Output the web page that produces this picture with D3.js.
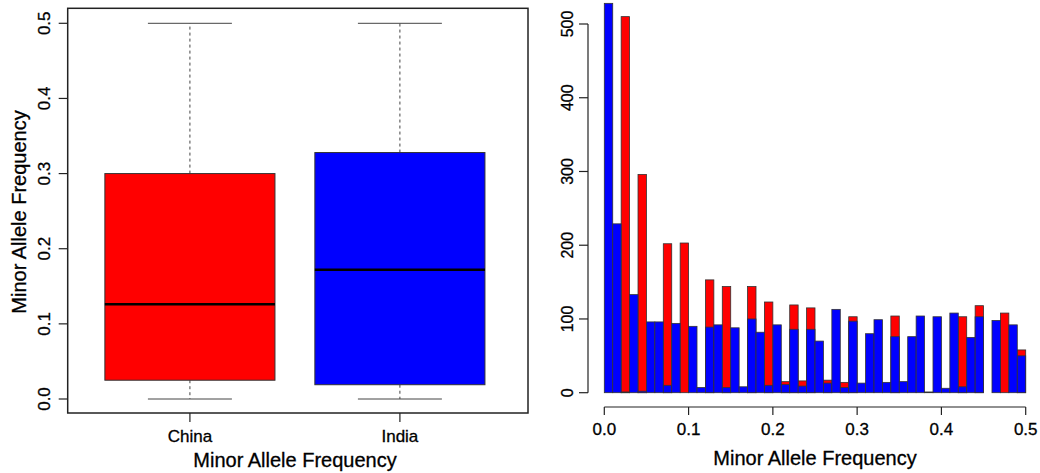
<!DOCTYPE html>
<html><head><meta charset="utf-8">
<script src="https://cdn.jsdelivr.net/npm/d3@7"></script>
<style>body{margin:0;background:#fff}svg{display:block}text{font-family:"Liberation Sans",Arial,sans-serif;fill:#000;stroke:#000;stroke-width:0.3px}</style>
</head><body>
<svg id="c" width="1040" height="473"></svg>
<script>
// ---- Data ----
const groups = ["China", "India"];
const groupColors = ["#ff0000", "#0000ff"];
const boxMin = [0.0, 0.0];
const boxQ1 = [0.025, 0.019];
const boxMedian = [0.126, 0.172];
const boxQ3 = [0.300, 0.328];
const boxMax = [0.5, 0.5];
const boxTicks = [0.0, 0.1, 0.2, 0.3, 0.4, 0.5];

const binWidth = 0.01;
const chinaCounts = [0,0,510,0,296,0,0,202,0,203, 0,0,153,0,144,0,0,144,0,123, 0,15,119,16,115,0,17,0,14,103, 0,0,0,0,104,0,0,0,0,0, 0,0,103,0,118,0,0,108,0,58];
const indiaCounts = [528,229,1,133,2,96,96,10,94,0, 90,7,89,92,7,88,8,100,82,10, 92,11,86,9,86,70,13,113,7,97, 13,80,99,14,76,15,76,104,1,103, 6,108,8,75,103,0,98,0,92,50];
const histXTicks = [0.0, 0.1, 0.2, 0.3, 0.4, 0.5];
const histYTicks = [0, 100, 200, 300, 400, 500];
const xTitle = "Minor Allele Frequency";
const yTitle = "Minor Allele Frequency";

const svg = d3.select("#c");
const dark = "#222";

// ---- Left: boxplot ----
const L = {left: 67.7, right: 528, top: 8.3, bottom: 413};
const xb = d3.scaleLinear().domain([0.418, 2.61]).range([L.left, L.right]);
const yb = d3.scaleLinear().domain([0, 0.5]).range([399, 23.3]);
const bw = 0.81, capw = 0.4;

const gL = svg.append("g");
groups.forEach((g, i) => {
  const cx = xb(i + 1);
  const half = (xb(1 + bw / 2) - xb(1));
  const capHalf = (xb(1 + capw / 2) - xb(1));
  gL.append("line").attr("x1", cx).attr("x2", cx).attr("y1", yb(boxQ3[i])).attr("y2", yb(boxMax[i]))
    .attr("stroke", "#444").attr("stroke-width", 1).attr("stroke-dasharray", "3,3");
  gL.append("line").attr("x1", cx).attr("x2", cx).attr("y1", yb(boxQ1[i])).attr("y2", yb(boxMin[i]))
    .attr("stroke", "#444").attr("stroke-width", 1).attr("stroke-dasharray", "3,3");
  [boxMax[i], boxMin[i]].forEach(v => {
    gL.append("line").attr("x1", cx - capHalf).attr("x2", cx + capHalf).attr("y1", yb(v)).attr("y2", yb(v))
      .attr("stroke", "#444").attr("stroke-width", 1);
  });
  gL.append("rect").attr("x", cx - half).attr("width", 2 * half)
    .attr("y", yb(boxQ3[i])).attr("height", yb(boxQ1[i]) - yb(boxQ3[i]))
    .attr("fill", groupColors[i]).attr("stroke", "#333").attr("stroke-width", 1);
  gL.append("line").attr("x1", cx - half).attr("x2", cx + half).attr("y1", yb(boxMedian[i])).attr("y2", yb(boxMedian[i]))
    .attr("stroke", "#000").attr("stroke-width", 2.5);
});
gL.append("rect").attr("x", L.left).attr("y", L.top).attr("width", L.right - L.left).attr("height", L.bottom - L.top)
  .attr("fill", "none").attr("stroke", dark).attr("stroke-width", 1.5);
boxTicks.forEach(t => {
  gL.append("line").attr("x1", L.left).attr("x2", L.left - 9).attr("y1", yb(t)).attr("y2", yb(t))
    .attr("stroke", dark).attr("stroke-width", 1.2);
  gL.append("text").attr("transform", `translate(50,${yb(t)}) rotate(-90)`)
    .attr("text-anchor", "middle").attr("font-size", 17).text(t.toFixed(1));
});
groups.forEach((g, i) => {
  const cx = xb(i + 1);
  gL.append("line").attr("x1", cx).attr("x2", cx).attr("y1", L.bottom).attr("y2", L.bottom + 9)
    .attr("stroke", dark).attr("stroke-width", 1.2);
  gL.append("text").attr("x", cx).attr("y", 442).attr("text-anchor", "middle").attr("font-size", 17).text(g);
});
gL.append("text").attr("x", 295).attr("y", 466.5).attr("text-anchor", "middle").attr("font-size", 20).text(xTitle);
gL.append("text").attr("transform", "translate(26,212) rotate(-90)").attr("text-anchor", "middle")
  .attr("font-size", 20).text(yTitle);

// ---- Right: histogram ----
const xh = d3.scaleLinear().domain([0, 0.5]).range([604.3, 1025.7]);
const yh = d3.scaleLinear().domain([0, 500]).range([392.7, 24]);
const gR = svg.append("g");
const drawBars = (counts, color) => {
  gR.selectAll(null).data(counts.map((c, i) => ({c, i})).filter(d => d.c > 0)).enter().append("rect")
    .attr("x", d => xh(d.i * binWidth)).attr("width", d => xh((d.i + 1) * binWidth) - xh(d.i * binWidth))
    .attr("y", d => yh(d.c)).attr("height", d => yh(0) - yh(d.c))
    .attr("fill", color).attr("stroke", "#333").attr("stroke-width", 0.8);
};
drawBars(chinaCounts, groupColors[0]);
drawBars(indiaCounts, groupColors[1]);

const yAxisX = 588;
gR.append("line").attr("x1", yAxisX).attr("x2", yAxisX).attr("y1", yh(0)).attr("y2", yh(500))
  .attr("stroke", dark).attr("stroke-width", 1.2);
histYTicks.forEach(t => {
  gR.append("line").attr("x1", yAxisX).attr("x2", yAxisX - 9).attr("y1", yh(t)).attr("y2", yh(t))
    .attr("stroke", dark).attr("stroke-width", 1.2);
  gR.append("text").attr("transform", `translate(${yAxisX - 15},${yh(t)}) rotate(-90)`)
    .attr("text-anchor", "middle").attr("font-size", 16).text(t);
});
const xAxisY = 407;
gR.append("line").attr("x1", xh(0)).attr("x2", xh(0.5)).attr("y1", xAxisY).attr("y2", xAxisY)
  .attr("stroke", dark).attr("stroke-width", 1.2);
histXTicks.forEach(t => {
  gR.append("line").attr("x1", xh(t)).attr("x2", xh(t)).attr("y1", xAxisY).attr("y2", xAxisY + 8)
    .attr("stroke", dark).attr("stroke-width", 1.2);
  gR.append("text").attr("x", xh(t)).attr("y", 435).attr("text-anchor", "middle").attr("font-size", 17).text(t.toFixed(1));
});
gR.append("text").attr("x", 815).attr("y", 465).attr("text-anchor", "middle").attr("font-size", 20).text(xTitle);
</script>
</body></html>
